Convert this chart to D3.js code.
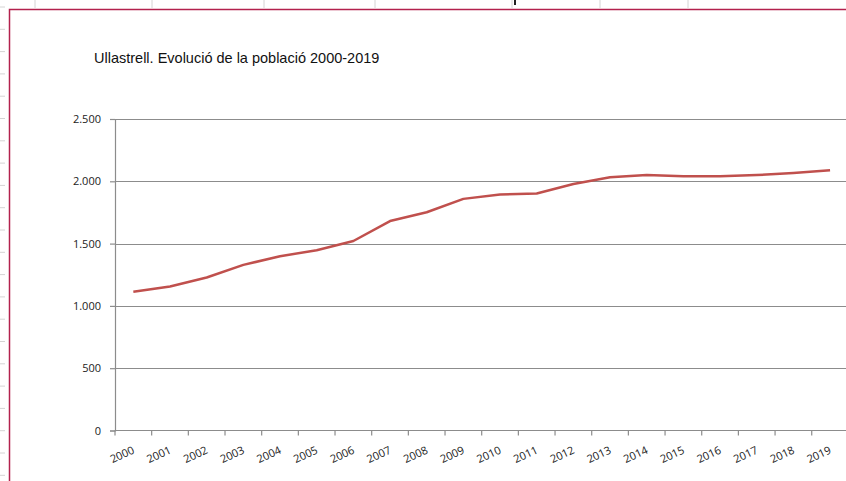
<!DOCTYPE html>
<html>
<head>
<meta charset="utf-8">
<script src="https://cdn.jsdelivr.net/npm/d3@7"></script>
<style>
    body { margin: 0; background: #fff; }
    svg { display: block; }
</style>
</head>
<body>
<div id="chart"></div>
<script>
// Data
const years = ["2000", "2001", "2002", "2003", "2004", "2005", "2006", "2007", "2008", "2009",
    "2010", "2011", "2012", "2013", "2014", "2015", "2016", "2017", "2018", "2019"];
const population = [1114, 1156, 1228, 1329, 1399, 1447, 1521, 1681, 1752, 1859,
    1894, 1902, 1978, 2032, 2050, 2040, 2040, 2050, 2066, 2088];
const yTicks = [0, 500, 1000, 1500, 2000, 2500];
const title = "Ullastrell. Evolució de la població 2000-2019";

function createLineChart() {
    const W = 846, H = 481;
    const plot = { left: 115, top: 119, bottom: 430.5, bandW: 36.67 };

    const svg = d3.select("#chart")
        .append("svg")
        .attr("width", W)
        .attr("height", H);

    // Spreadsheet background bits (row / column lines peeking out)
    svg.selectAll(".rowline")
        .data(d3.range(7, H, 22.3))
        .enter()
        .append("line")
        .attr("x1", 0).attr("x2", 5)
        .attr("y1", d => d).attr("y2", d => d)
        .attr("stroke", "#d4d4d4");

    svg.selectAll(".colline")
        .data([35, 152, 264, 375, 512, 600, 688])
        .enter()
        .append("line")
        .attr("x1", d => d).attr("x2", d => d)
        .attr("y1", 0).attr("y2", 8)
        .attr("stroke", "#d4d4d4");

    svg.append("rect")
        .attr("x", 514).attr("y", 0)
        .attr("width", 2).attr("height", 5)
        .attr("fill", "#222");

    // Chart frame
    svg.append("rect")
        .attr("x", 9.5)
        .attr("y", 9.5)
        .attr("width", W)
        .attr("height", H)
        .attr("fill", "#fff")
        .attr("stroke", "#b3214d")
        .attr("stroke-width", 1.5);

    // Title
    svg.append("text")
        .attr("x", 94)
        .attr("y", 63)
        .style("font-family", "'Liberation Sans', Arial, sans-serif")
        .style("font-size", "14.5px")
        .attr("fill", "#111")
        .text(title);

    // Scales
    const xScale = d3.scaleBand()
        .domain(years)
        .range([plot.left, plot.left + plot.bandW * years.length])
        .padding(0);

    const yScale = d3.scaleLinear()
        .domain([0, 2500])
        .range([plot.bottom, plot.top]);

    // Gridlines
    svg.selectAll(".grid")
        .data(yTicks.filter(d => d > 0))
        .enter()
        .append("line")
        .attr("x1", plot.left)
        .attr("x2", W)
        .attr("y1", d => Math.round(yScale(d)) + 0.5)
        .attr("y2", d => Math.round(yScale(d)) + 0.5)
        .attr("stroke", "#8c8c8c")
        .attr("stroke-width", 1.2);

    // Y axis
    const yAxis = svg.append("g")
        .attr("transform", `translate(${plot.left},0)`)
        .call(d3.axisLeft(yScale)
            .tickValues(yTicks)
            .tickSize(5)
            .tickPadding(9)
            .tickFormat(d => d3.format(",")(d).replace(/,/g, ".")));

    // X axis
    const xAxis = svg.append("g")
        .attr("transform", `translate(0,${plot.bottom})`)
        .call(d3.axisBottom(xScale).tickSize(0).tickFormat(d => d));

    xAxis.selectAll(".tick text")
        .attr("text-anchor", "end")
        .attr("transform", "translate(-1,16) rotate(-25)")
        .attr("dy", "0.35em");

    // Tick marks on band boundaries
    xAxis.selectAll(".bandtick")
        .data(d3.range(years.length + 1))
        .enter()
        .append("line")
        .attr("x1", i => plot.left + i * plot.bandW)
        .attr("x2", i => plot.left + i * plot.bandW)
        .attr("y1", 0)
        .attr("y2", 5)
        .attr("stroke", "#8c8c8c")
        .attr("stroke-width", 1.2);

    [yAxis, xAxis].forEach(ax => {
        ax.select(".domain").attr("stroke", "#8c8c8c").attr("stroke-width", 1.2);
        ax.selectAll(".tick line").attr("stroke", "#8c8c8c").attr("stroke-width", 1.2);
        ax.selectAll(".tick text")
            .style("font-family", "'Open Sans', sans-serif")
            .style("font-size", "11px")
            .attr("fill", "#222");
    });
    xAxis.select(".domain").attr("d", `M${plot.left},0H${W}`);

    // Population line
    const line = d3.line()
        .x((d, i) => xScale(years[i]) + xScale.bandwidth() / 2)
        .y(d => yScale(d));

    svg.append("path")
        .datum(population)
        .attr("d", line)
        .attr("fill", "none")
        .attr("stroke", "#c0504d")
        .attr("stroke-width", 2.5)
        .attr("stroke-linejoin", "round");
}

createLineChart();
</script>
</body>
</html>
